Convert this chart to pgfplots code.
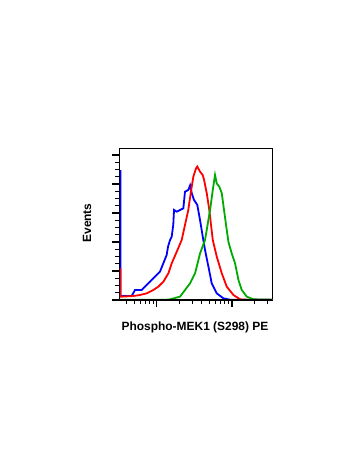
\documentclass[border=0pt]{standalone}
\usepackage{pgfplots}
\pgfplotsset{compat=1.18}
\usepackage{fontspec}
\setmainfont{Liberation Sans}
\definecolor{fcblue}{RGB}{0,0,255}
\definecolor{fcred}{RGB}{255,0,0}
\definecolor{fcgreen}{RGB}{0,170,0}
\begin{document}
\begin{tikzpicture}[x=1bp,y=1bp]
\useasboundingbox (0,0) rectangle (350,467);
\begin{axis}[
  at={(119.3bp,167bp)}, anchor=south west,
  scale only axis, width=153bp, height=151.7bp,
  xmin=1.502, xmax=3.54, ymin=0, ymax=5.23,
  xtick={2,3}, xticklabels={},
  minor xtick={1.602,1.699,1.778,1.845,1.903,1.954,2.301,2.477,2.602,2.699,2.778,2.845,2.903,2.954,3.301,3.477},
  ytick={0,1,2,3,4,5}, yticklabels={},
  minor y tick num=3,
  tick align=outside, tick pos=left,
  major tick length=7bp, minor tick length=4bp,
  every tick/.style={black},
  major tick style={line width=1.6bp, black},
  minor tick style={line width=0.9bp, black},
  axis line style={line width=0.9bp},
  clip=true,
]
\addplot[fcblue, line width=1.8bp] coordinates {
(1.516,4.48)(1.518,0.138)(1.533,0.138)(1.667,0.138)(1.711,0.345)(1.800,0.345)(1.867,0.517)(1.911,0.630)(2.000,0.862)(2.044,0.976)(2.088,1.264)(2.133,1.552)(2.151,1.838)(2.178,2.069)(2.200,2.183)(2.221,2.600)(2.231,3.103)(2.267,3.045)(2.311,3.103)(2.355,3.160)(2.377,3.735)(2.421,3.793)(2.445,3.95)(2.467,3.68)(2.497,3.448)(2.541,3.276)(2.577,2.759)(2.621,2.069)(2.644,1.724)(2.689,1.149)(2.733,0.575)(2.800,0.230)(2.889,0.057)(2.978,0.01)(3.54,0.01)
};
\addplot[fcred, line width=1.8bp] coordinates {
(1.516,1.092)(1.518,0.115)(1.533,0.115)(1.689,0.138)(1.778,0.172)(1.867,0.230)(1.956,0.345)(2.022,0.460)(2.089,0.632)(2.156,0.920)(2.200,1.264)(2.258,1.609)(2.333,2.069)(2.421,3.103)(2.453,3.680)(2.488,4.250)(2.524,4.540)(2.541,4.600)(2.577,4.425)(2.613,4.310)(2.631,4.140)(2.667,3.680)(2.701,3.100)(2.747,2.070)(2.800,1.494)(2.867,0.920)(2.933,0.460)(3.022,0.172)(3.111,0.023)(3.200,0.01)(3.54,0.01)
};
\addplot[fcgreen, line width=1.8bp] coordinates {
(1.502,0.01)(2.133,0.01)(2.178,0.023)(2.311,0.115)(2.378,0.345)(2.444,0.575)(2.511,0.920)(2.578,1.609)(2.644,2.069)(2.711,3.100)(2.747,3.790)(2.777,4.310)(2.800,4.020)(2.835,3.900)(2.867,3.680)(2.897,3.100)(2.933,2.414)(2.956,2.000)(3.000,1.600)(3.044,1.264)(3.089,0.690)(3.133,0.345)(3.200,0.115)(3.289,0.023)(3.54,0.01)
};
\draw[line width=1.8bp, black] (rel axis cs:0,1) -- (rel axis cs:0,0) -- (rel axis cs:1,0);
\end{axis}
\node[rotate=90, font=\bfseries\fontsize{12}{14}\selectfont] at (87,244) {Events};
\node[font=\bfseries\fontsize{12}{14}\selectfont] at (195,140) {Phospho-MEK1 (S298) PE};
\end{tikzpicture}
\end{document}
